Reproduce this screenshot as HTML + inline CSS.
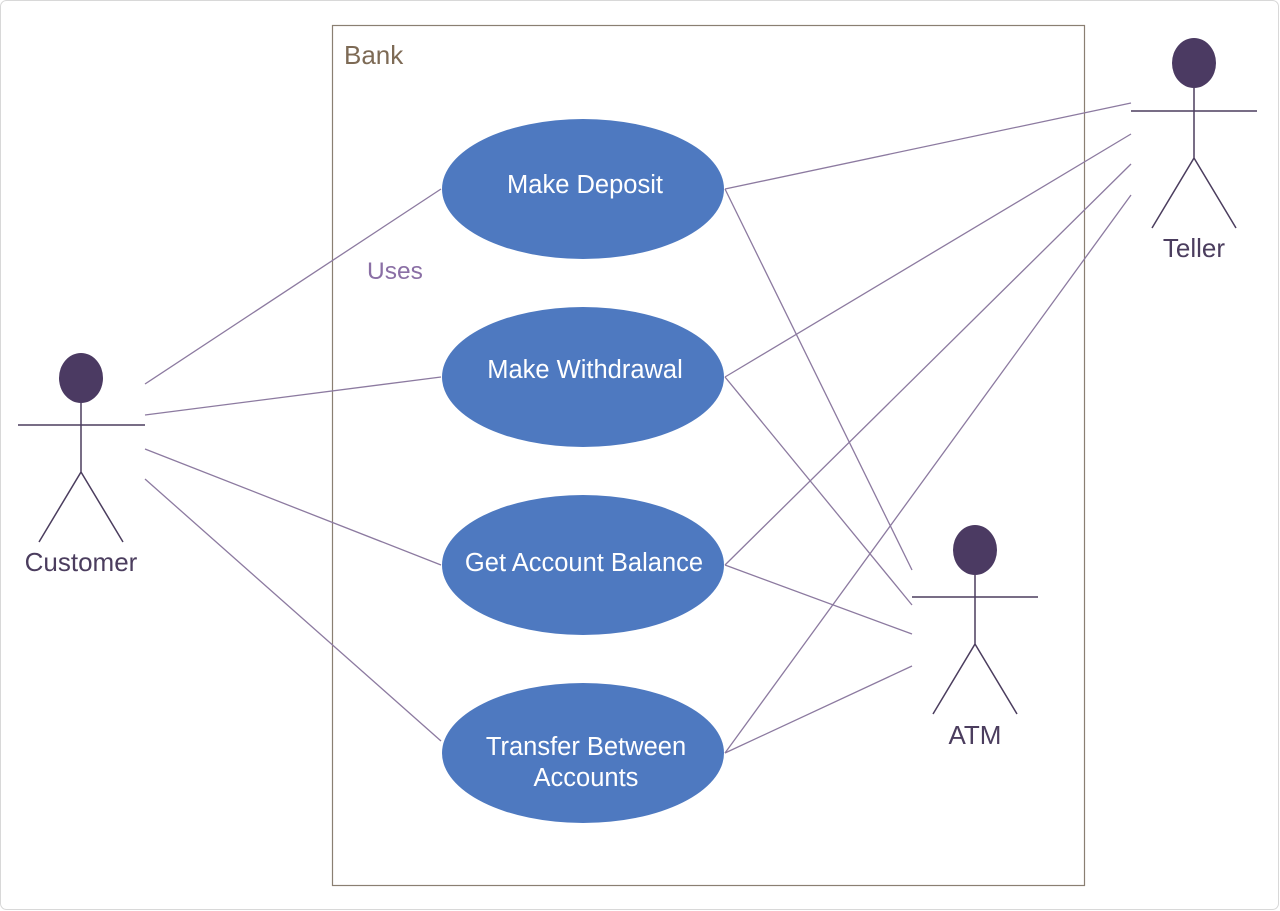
<!DOCTYPE html>
<html><head><meta charset="utf-8"><style>
html,body{margin:0;padding:0;background:#fff;}
svg{display:block;}
</style></head><body>
<svg width="1280" height="911" viewBox="0 0 1280 911" xmlns="http://www.w3.org/2000/svg" font-family="Liberation Sans, sans-serif">
<rect x="0.5" y="0.5" width="1278" height="909" rx="6" fill="#fff" stroke="#d8d8d8"/>
<rect x="332.5" y="25.5" width="752" height="860" fill="none" stroke="#8a7f72" stroke-width="1.2"/>
<text x="344" y="64" font-size="26" fill="#7d6a55">Bank</text>
<text x="367" y="279" font-size="24.5" fill="#8a6fa5">Uses</text>
<g stroke="#8c7aa0" stroke-width="1.3" fill="none">
<line x1="145" y1="384" x2="441" y2="189"/>
<line x1="145" y1="415" x2="441" y2="377"/>
<line x1="145" y1="449" x2="441" y2="565"/>
<line x1="145" y1="479" x2="441" y2="741"/>
<line x1="725" y1="189" x2="1131" y2="103"/>
<line x1="725" y1="377" x2="1131" y2="134"/>
<line x1="725" y1="565" x2="1131" y2="164"/>
<line x1="725" y1="753" x2="1131" y2="195"/>
<line x1="725" y1="189" x2="912" y2="570"/>
<line x1="725" y1="377" x2="912" y2="605"/>
<line x1="725" y1="565" x2="912" y2="634"/>
<line x1="725" y1="753" x2="912" y2="666"/>
</g>
<g fill="#4e79c0">
<ellipse cx="583" cy="189" rx="141" ry="70"/>
<ellipse cx="583" cy="377" rx="141" ry="70"/>
<ellipse cx="583" cy="565" rx="141" ry="70"/>
<ellipse cx="583" cy="753" rx="141" ry="70"/>
</g>
<g fill="#fff" font-size="25.5" text-anchor="middle">
<text x="585" y="193">Make Deposit</text>
<text x="585" y="378">Make Withdrawal</text>
<text x="584" y="571">Get Account Balance</text>
<text x="586" y="755">Transfer Between</text>
<text x="586" y="786">Accounts</text>
</g>
<g stroke="#4b3d5e" stroke-width="1.5" fill="none">
<path d="M18 425H145M81 403V472L39 542M81 472L123 542"/>
<path d="M1131 111H1257M1194 88V158L1152 228M1194 158L1236 228"/>
<path d="M912 597H1038M975 575V644L933 714M975 644L1017 714"/>
</g>
<g fill="#4b3a62">
<ellipse cx="81" cy="378" rx="22" ry="25"/>
<ellipse cx="1194" cy="63" rx="22" ry="25"/>
<ellipse cx="975" cy="550" rx="22" ry="25"/>
</g>
<g fill="#4b3d5e" font-size="26" text-anchor="middle">
<text x="81" y="571">Customer</text>
<text x="1194" y="257">Teller</text>
<text x="975" y="744">ATM</text>
</g>
</svg>
</body></html>
